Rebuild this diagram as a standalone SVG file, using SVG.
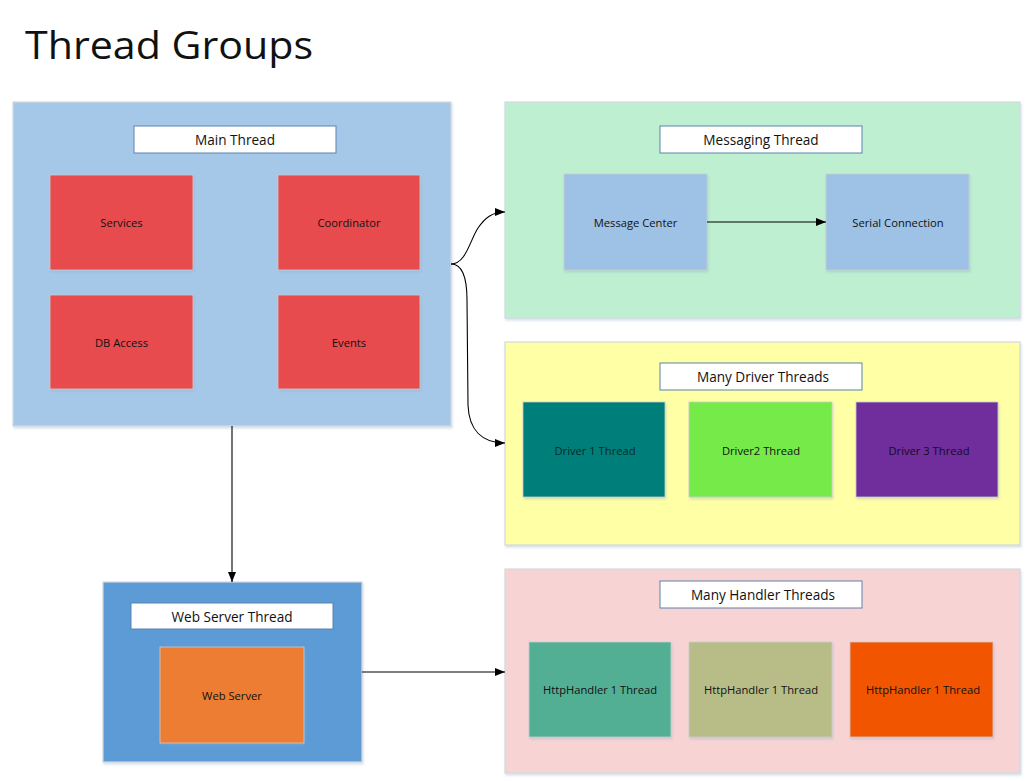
<svg xmlns="http://www.w3.org/2000/svg" width="1026" height="781" viewBox="0 0 1026 781">
<style>
text{font-family:"Open Sans","Liberation Sans",sans-serif;fill:#111;text-anchor:middle;dominant-baseline:central}
.cont{stroke:#d3d9df;stroke-width:1.2;filter:url(#sh)}
.lbl{fill:#fff;stroke:#5a83ad;stroke-width:1}
.lt{font-size:13.6px}
.nd{stroke:#c9ccd0;stroke-width:0.8;filter:url(#sh)}
.nt{font-size:11.2px}
.ln{fill:none;stroke:#000;stroke-width:1.1}
</style>
<defs>
<filter id="sh" x="-5%" y="-5%" width="112%" height="115%">
<feDropShadow dx="1" dy="2" stdDeviation="1.2" flood-color="#8fa8c8" flood-opacity="0.35"/>
</filter>
<marker id="ah" markerWidth="10" markerHeight="8" refX="10" refY="4" orient="auto" markerUnits="userSpaceOnUse">
<path d="M0,0 L10,4 L0,8 Z" fill="#000"/>
</marker>
</defs>
<rect width="1026" height="781" fill="#fff"/>
<text x="169" y="44" style="font-size:38px" textLength="288" lengthAdjust="spacingAndGlyphs">Thread Groups</text>

<g id="main-thread">
<rect class="cont" x="13" y="102" width="438" height="324" fill="#a6c8e8"/>
<rect class="lbl" x="134" y="126" width="202" height="27"/>
<text class="lt" x="235" y="139.5">Main Thread</text>
</g>
<g id="services"><rect class="nd" x="50" y="175" width="143" height="95" fill="#e84c4e"/><text class="nt" x="121.5" y="222">Services</text></g>
<g id="coordinator"><rect class="nd" x="278" y="175" width="142" height="95" fill="#e84c4e"/><text class="nt" x="349" y="222">Coordinator</text></g>
<g id="db-access"><rect class="nd" x="50" y="295" width="143" height="94" fill="#e84c4e"/><text class="nt" x="121.5" y="342">DB Access</text></g>
<g id="events"><rect class="nd" x="278" y="295" width="142" height="94" fill="#e84c4e"/><text class="nt" x="349" y="342">Events</text></g>

<g id="messaging-thread">
<rect class="cont" x="505" y="102" width="515" height="216" fill="#bdefd0"/>
<rect class="lbl" x="660" y="126" width="202" height="27"/>
<text class="lt" x="761" y="139.5">Messaging Thread</text>
</g>
<g id="message-center"><rect class="nd" x="564" y="174" width="143" height="96" fill="#9dc2e5"/><text class="nt" x="635.5" y="222">Message Center</text></g>
<g id="serial-connection"><rect class="nd" x="826" y="174" width="143" height="96" fill="#9dc2e5"/><text class="nt" x="898" y="222">Serial Connection</text></g>

<g id="driver-threads">
<rect class="cont" x="505" y="342" width="515" height="203" fill="#ffffa6"/>
<rect class="lbl" x="660" y="363" width="202" height="27"/>
<text class="lt" x="763" y="376.5">Many Driver Threads</text>
</g>
<g id="driver1"><rect class="nd" x="523" y="402" width="142" height="95" fill="#007f7a"/><text class="nt" x="595" y="450" style="fill:#0a2826">Driver 1 Thread</text></g>
<g id="driver2"><rect class="nd" x="689" y="402" width="143" height="95" fill="#76ea48"/><text class="nt" x="761" y="450">Driver2 Thread</text></g>
<g id="driver3"><rect class="nd" x="856" y="402" width="142" height="95" fill="#6f2f9c"/><text class="nt" x="929" y="450" style="fill:#140a22">Driver 3 Thread</text></g>

<g id="web-server-thread">
<rect class="cont" x="103" y="582" width="259" height="180" fill="#5b9bd5"/>
<rect class="lbl" x="131" y="603" width="202" height="26"/>
<text class="lt" x="232" y="616">Web Server Thread</text>
</g>
<g id="web-server"><rect class="nd" x="160" y="647" width="144" height="96" fill="#ed7d31"/><text class="nt" x="232" y="695">Web Server</text></g>

<g id="handler-threads">
<rect class="cont" x="505" y="569" width="515" height="204" fill="#f8d3d3"/>
<rect class="lbl" x="660" y="581" width="202" height="27"/>
<text class="lt" x="763" y="594.5">Many Handler Threads</text>
</g>
<g id="handler1"><rect class="nd" x="529" y="642" width="142" height="95" fill="#52af93"/><text class="nt" x="600" y="689">HttpHandler 1 Thread</text></g>
<g id="handler2"><rect class="nd" x="689" y="642" width="143" height="95" fill="#b8bd88"/><text class="nt" x="761" y="689">HttpHandler 1 Thread</text></g>
<g id="handler3"><rect class="nd" x="850" y="642" width="143" height="95" fill="#f25406"/><text class="nt" x="923" y="689">HttpHandler 1 Thread</text></g>

<g id="connectors">
<path class="ln" d="M451,264 C466,264 470,240 478,228 C485,218 492,212 505,212" marker-end="url(#ah)"/>
<path class="ln" d="M451,264 C462,264 467,276 467,300 L468,405 C469,430 482,443 505,443" marker-end="url(#ah)"/>
<path class="ln" d="M707,222 L826,222" marker-end="url(#ah)"/>
<path class="ln" d="M232,426 L232,582" marker-end="url(#ah)"/>
<path class="ln" d="M362,672 L505,672" marker-end="url(#ah)"/>
</g>
</svg>
